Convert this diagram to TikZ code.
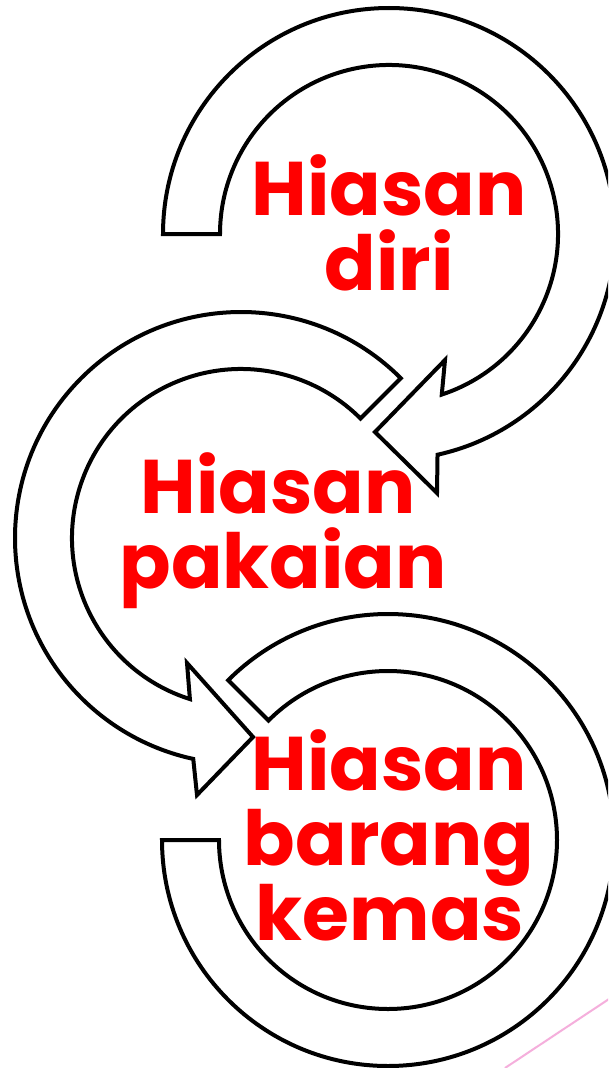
\documentclass[tikz,border=0pt]{standalone}
\usepackage{fontspec}
\newfontfamily\lblfont{Poppins}
\usetikzlibrary{calc}
\definecolor{lblred}{RGB}{255,0,0}
\definecolor{pinkline}{RGB}{245,175,220}
\tikzset{
  ring/.style={draw=black, line width=4pt, fill=white, line join=miter},
  lbl/.style={text=lblred, font=\lblfont\bfseries\fontsize{76}{75}\selectfont, anchor=base, inner sep=0pt}
}
\begin{document}
\begin{tikzpicture}[x=1pt,y=-1pt]
\useasboundingbox (0,0) rectangle (608,1068);
\clip (0,0) rectangle (608,1068);
\fill[white] (0,0) rectangle (608,1068);
\coordinate (c1) at (389,234);
\coordinate (c2) at (241,538);
\coordinate (c3) at (388,840);
% shape 1
\draw[ring] ($(c1)+(180:226)$) arc[start angle=180,end angle=437.6,radius=226]
  -- (437,493) -- (375,432) -- (445,360)
  -- ($(c1)+(431.8:169)$) arc[start angle=431.8,end angle=180,radius=169] -- cycle;
% shape 2
\draw[ring] ($(c2)+(-45:226)$) arc[start angle=-45,end angle=-257.8,radius=226]
  -- (197,795) -- (253,737) -- (187,663)
  -- ($(c2)+(-252.4:169)$) arc[start angle=-252.4,end angle=-45,radius=169] -- cycle;
% shape 3
\draw[ring] ($(c3)+(180:226)$) arc[start angle=180,end angle=-135,radius=226]
  -- ($(c3)+(-135:169)$) arc[start angle=-135,end angle=180,radius=169] -- cycle;
% pink line
\draw[pinkline, line width=2pt] (505,1068) -- (612,997);
% labels
\node[lbl] (t1a) at (389,215) {Hiasan};
\node[lbl] (t1b) at (389,290) {diri};
\node[lbl] (t2a) at (278,513) {Hiasan};
\node[lbl] (t2b) at (283,588) {pakaian};
\node[lbl] (t3a) at (389,790) {Hiasan};
\node[lbl] (t3b) at (389,865) {barang};
\node[lbl] (t3c) at (390,940) {kemas};
\end{tikzpicture}
\end{document}
